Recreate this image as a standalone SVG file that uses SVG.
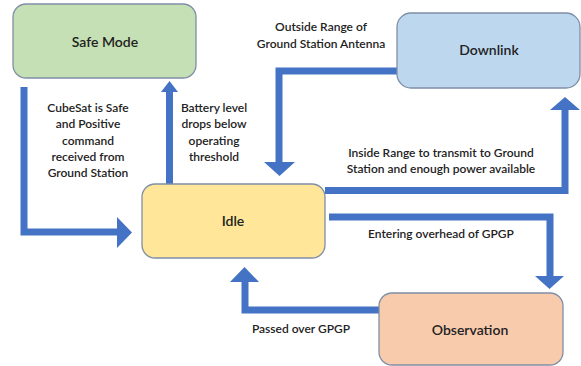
<svg xmlns="http://www.w3.org/2000/svg" width="581" height="366" viewBox="0 0 581 366">
<style>
.node{stroke:#7f8fa6;stroke-width:1.3}
.lbl{font-family:"Lato","Liberation Sans",sans-serif;font-size:14px;font-weight:600;fill:#222;text-anchor:middle}
.txt{font-family:"Lato","Liberation Sans",sans-serif;font-size:12px;font-weight:600;fill:#222;text-anchor:middle}
.ln{fill:none;stroke:#4472c4;stroke-width:7}
.hd{fill:#4472c4}
</style>
<rect width="581" height="366" fill="#fff"/>
<g id="connectors">
<polyline class="ln" points="24,87 24,232 118,232"/>
<polygon class="hd" points="117,217 132,232.5 117,248"/>
<line class="ln" x1="169.5" y1="184" x2="169.5" y2="91"/>
<polygon class="hd" points="161,92 178,92 169.5,81"/>
<polyline class="ln" points="397,71 279,71 279,163"/>
<polygon class="hd" points="264,162 295,162 279.5,176"/>
<polyline class="ln" points="325,190.5 565,190.5 565,109"/>
<polygon class="hd" points="550,110 580,110 565,97"/>
<polyline class="ln" points="329,217 550,217 550,277"/>
<polygon class="hd" points="535,276 564,276 549.5,289"/>
<polyline class="ln" points="379,310 245,310 245,281"/>
<polygon class="hd" points="230,282 259,282 244.5,267"/>
</g>
<g id="safe-mode">
<rect class="node" x="13" y="4" width="183" height="74" rx="13" fill="#c5e0b4"/>
<text class="lbl" x="105" y="47">Safe Mode</text>
</g>
<g id="downlink">
<rect class="node" x="397" y="13" width="183" height="75" rx="14" fill="#bdd7ee"/>
<text class="lbl" x="489" y="55">Downlink</text>
</g>
<g id="idle">
<rect class="node" x="142" y="184" width="183" height="74" rx="13" fill="#ffe699"/>
<text class="lbl" x="233" y="226">Idle</text>
</g>
<g id="observation">
<rect class="node" x="379" y="293" width="184" height="72" rx="13" fill="#f8cbad"/>
<text class="lbl" x="470" y="335">Observation</text>
</g>
<g id="labels">
<text class="txt" x="88" y="112">CubeSat is Safe</text>
<text class="txt" x="88" y="128">and Positive</text>
<text class="txt" x="88" y="145">command</text>
<text class="txt" x="88" y="161">received from</text>
<text class="txt" x="88" y="177">Ground Station</text>
<text class="txt" x="214" y="112">Battery level</text>
<text class="txt" x="214" y="128">drops below</text>
<text class="txt" x="214" y="145">operating</text>
<text class="txt" x="214" y="161">threshold</text>
<text class="txt" x="321" y="31">Outside Range of</text>
<text class="txt" x="321" y="48">Ground Station Antenna</text>
<text class="txt" x="441" y="157">Inside Range to transmit to Ground</text>
<text class="txt" x="441" y="173">Station and enough power available</text>
<text class="txt" x="441" y="238">Entering overhead of GPGP</text>
<text class="txt" x="301" y="333">Passed over GPGP</text>
</g>
</svg>
